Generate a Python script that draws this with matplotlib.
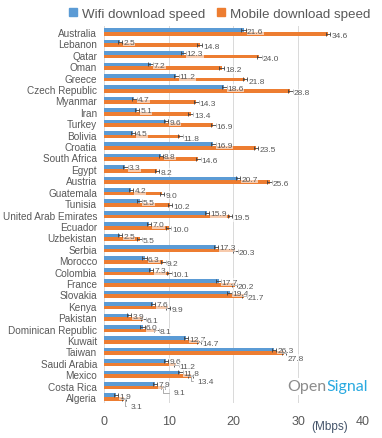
import numpy as np
import matplotlib
matplotlib.use("Agg")
import matplotlib.pyplot as plt
from matplotlib.patches import Patch

countries = ["Australia", "Lebanon", "Qatar", "Oman", "Greece", "Czech Republic",
             "Myanmar", "Iran", "Turkey", "Bolivia", "Croatia", "South Africa",
             "Egypt", "Austria", "Guatemala", "Tunisia", "United Arab Emirates",
             "Ecuador", "Uzbekistan", "Serbia", "Morocco", "Colombia", "France",
             "Slovakia", "Kenya", "Pakistan", "Dominican Republic", "Kuwait",
             "Taiwan", "Saudi Arabia", "Mexico", "Costa Rica", "Algeria"]
wifi = [21.6, 2.5, 12.3, 7.2, 11.2, 18.6, 4.7, 5.1, 9.6, 4.5, 16.9, 8.8, 3.3,
        20.7, 4.2, 5.5, 15.9, 7.0, 2.5, 17.3, 6.3, 7.3, 17.7, 19.4, 7.6, 3.9,
        6.0, 12.7, 26.3, 9.6, 11.8, 7.9, 1.9]
mobile = [34.6, 14.8, 24.0, 18.2, 21.8, 28.8, 14.3, 13.4, 16.9, 11.8, 23.5,
          14.6, 8.2, 25.6, 9.0, 10.2, 19.5, 10.0, 5.5, 20.3, 9.2, 10.1, 20.2,
          21.7, 9.9, 6.1, 8.1, 14.7, 27.8, 11.2, 13.4, 9.1, 3.1]
xticks = [0, 10, 20, 30, 40]
series_names = ["Wifi download speed", "Mobile download speed"]

BLUE = "#5B9BD5"
ORANGE = "#ED7D31"
GRAY = "#595959"

plt.rcParams["font.family"] = ["Liberation Sans", "DejaVu Sans"]

fig = plt.figure(figsize=(3.82, 4.39), dpi=100)
ax = fig.add_axes([0.272, 0.0804, 0.678, 0.8574])

n = len(countries)
idx = np.arange(n)
h = 0.32
ax.barh(idx - 0.16, wifi, height=h, color=BLUE, zorder=2)
ax.barh(idx + 0.16, mobile, height=h, color=ORANGE, zorder=2)
err = 0.35
ax.errorbar(wifi, idx - 0.16, xerr=err, fmt="none", ecolor="#404040",
            elinewidth=0.6, capsize=1.5, capthick=0.6, zorder=3)
ax.errorbar(mobile, idx + 0.16, xerr=err, fmt="none", ecolor="#404040",
            elinewidth=0.6, capsize=1.5, capthick=0.6, zorder=3)

lab_kw = dict(fontsize=6, color=GRAY, va="center", ha="left", zorder=4,
              bbox=dict(boxstyle="square,pad=0.05", fc="white", ec="none", alpha=0.6))
leader = {"Mexico": (4, -3.5), "Costa Rica": (7, -3.5), "Algeria": (4, -5)}
for i, (c, w, m) in enumerate(zip(countries, wifi, mobile)):
    ax.text(w + 0.5, i - 0.08, f"{w:.1f}", **lab_kw)
    if c in leader:
        dx, dy = leader[c]
        ax.annotate(f"{m:.1f}", xy=(m + 0.1, i + 0.2), xytext=(dx, dy),
                    textcoords="offset points", fontsize=6, color=GRAY,
                    va="center", ha="left",
                    arrowprops=dict(arrowstyle="-", color="#A0A0A0", lw=0.6,
                                    shrinkA=1, shrinkB=0,
                                    connectionstyle="angle,angleA=0,angleB=90,rad=0"))
    elif c == "Taiwan":
        ax.text(m + 0.6, i + 0.6, f"{m:.1f}", **lab_kw)
    else:
        ax.text(m + 0.5, i + 0.3, f"{m:.1f}", **lab_kw)

ax.set_xlim(0, 40)
ax.set_ylim(n - 0.5, -0.5)
ax.set_yticks(idx)
ax.set_yticklabels(countries, fontsize=7.2, color=GRAY)
ax.set_xticks(xticks)
ax.set_xticklabels([str(t) for t in xticks], fontsize=9, color=GRAY)
ax.tick_params(axis="both", length=0)
ax.tick_params(axis="x", pad=9)
ax.tick_params(axis="y", pad=5)
ax.grid(axis="x", color="#D9D9D9", lw=0.7, zorder=0)
ax.set_axisbelow(True)
for s in ax.spines.values():
    s.set_visible(False)

handles = [Patch(color=BLUE), Patch(color=ORANGE)]
leg = fig.legend(handles, series_names, loc="center", bbox_to_anchor=(0.575, 0.966),
                 ncol=2, frameon=False, fontsize=9.6, handlelength=0.6,
                 handleheight=0.6, handletextpad=0.4, columnspacing=0.9)
for t in leg.get_texts():
    t.set_color(GRAY)

fig.text(0.864, 0.027, "(Mbps)", fontsize=8.5, color="#44546A", ha="center", va="center")

t1 = fig.text(0.751, 0.109, "Open", fontsize=11.5, color="#8C8C8C",
              family=["Lato", "DejaVu Sans"], ha="left", va="baseline",
              bbox=dict(boxstyle="square,pad=0.1", fc="white", ec="none"))
ax.annotate("Signal", xy=(1, 0), xycoords=t1, fontsize=11.5, color="#29A9E0",
            family=["Lato", "DejaVu Sans"], ha="left", va="bottom",
            bbox=dict(boxstyle="square,pad=0.1", fc="white", ec="none"))

fig.savefig("out.png", dpi=100)
